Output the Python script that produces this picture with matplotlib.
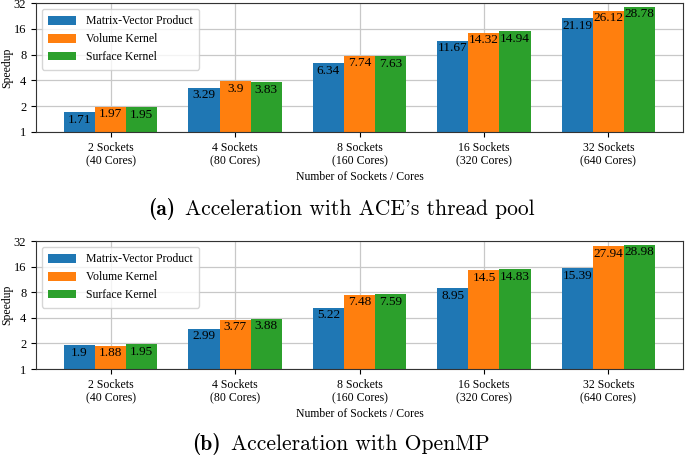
import matplotlib
matplotlib.use("Agg")
import matplotlib.pyplot as plt
import numpy as np

categories = ["2 Sockets\n(40 Cores)", "4 Sockets\n(80 Cores)", "8 Sockets\n(160 Cores)",
              "16 Sockets\n(320 Cores)", "32 Sockets\n(640 Cores)"]
series_names = ["Matrix-Vector Product", "Volume Kernel", "Surface Kernel"]
ace_mvp = [1.71, 3.29, 6.34, 11.67, 21.19]
ace_vol = [1.97, 3.9, 7.74, 14.32, 26.12]
ace_surf = [1.95, 3.83, 7.63, 14.94, 28.78]
omp_mvp = [1.9, 2.99, 5.22, 8.95, 15.39]
omp_vol = [1.88, 3.77, 7.48, 14.5, 27.94]
omp_surf = [1.95, 3.88, 7.59, 14.83, 28.98]
yticks = [1, 2, 4, 8, 16, 32]
captions = [("(a)", "Acceleration with ACE's thread pool"),
            ("(b)", "Acceleration with OpenMP")]

colors = ["#1f77b4", "#ff7f0e", "#2ca02c"]
plt.rcParams["font.family"] = ["Liberation Serif", "DejaVu Serif"]

W, H = 685, 461
fig = plt.figure(figsize=(W / 100, H / 100), dpi=100)

def px_axes(left, top, right, bottom):
    return fig.add_axes([left / W, 1 - bottom / H, (right - left) / W, (bottom - top) / H])

panels = [
    (px_axes(36, 3, 683, 132), [ace_mvp, ace_vol, ace_surf]),
    (px_axes(36, 241, 683, 369), [omp_mvp, omp_vol, omp_surf]),
]

x = np.arange(len(categories))
bw = 0.25
for ax, data in panels:
    ax.set_axisbelow(True)
    for i, (vals, name, c) in enumerate(zip(data, series_names, colors)):
        pos = x + (i - 1) * bw
        ax.bar(pos, vals, bw, color=c, label=name, zorder=2)
        for xp, v in zip(pos, vals):
            ax.text(xp, v * 0.96, f"{v:g}", ha="center", va="top", fontsize=9.5, zorder=3)
    ax.set_yscale("log", base=2)
    ax.set_ylim(1, 32)
    ax.set_yticks(yticks)
    ax.set_yticklabels([str(t) for t in yticks])
    ax.minorticks_off()
    ax.set_xlim(-0.6, 4.6)
    ax.set_xticks(x)
    ax.set_xticklabels(categories, fontsize=8.5, linespacing=1.15)
    ax.tick_params(axis="y", labelsize=9)
    ax.grid(True, color="#c8c8c8", linewidth=0.9)
    ax.set_ylabel("Speedup", fontsize=8.5)
    ax.yaxis.set_label_coords((13 - 36) / 647, 0.5)
    ax.set_xlabel("Number of Sockets / Cores", fontsize=8.5, labelpad=3)
    for s in ax.spines.values():
        s.set_color("#333333")
    ax.legend(loc="upper left", fontsize=8.5, handlelength=2.3, handleheight=0.75,
              borderpad=0.55, labelspacing=0.5, handletextpad=0.9,
              framealpha=0.8, edgecolor="#cccccc")

fig.canvas.draw()
r = fig.canvas.get_renderer()
for (lab, txt), yc in zip(captions, [209, 444]):
    fs = 15.5
    t1 = fig.text(0, 1 - yc / H, lab, fontfamily="cmb10", fontsize=fs, va="center", ha="left")
    t2 = fig.text(0, 1 - yc / H, txt, fontfamily="cmr10", fontsize=fs, va="center", ha="left")
    w1 = t1.get_window_extent(r).width
    w2 = t2.get_window_extent(r).width
    gap = 10
    total = w1 + gap + w2
    x0 = 341 - total / 2
    t1.set_x(x0 / W)
    t2.set_x((x0 + w1 + gap) / W)

fig.savefig("out.png", dpi=100)
